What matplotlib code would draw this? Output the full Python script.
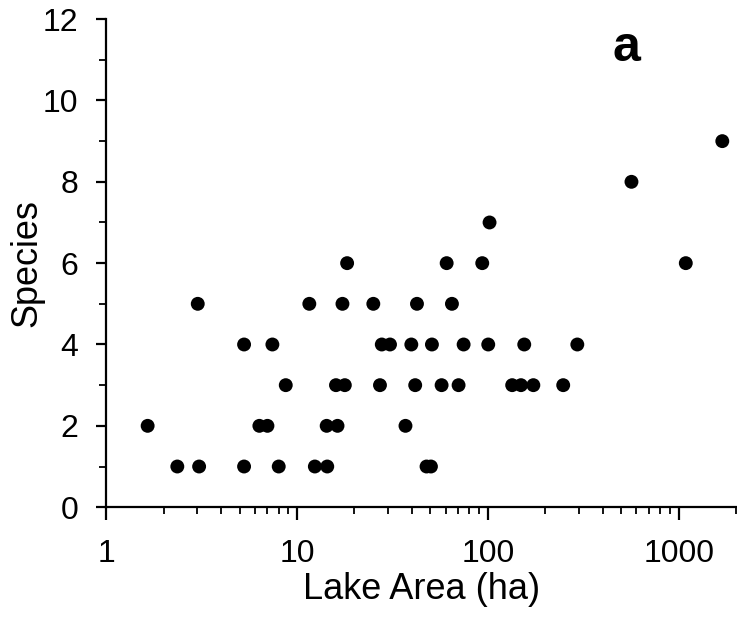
import numpy as np
import matplotlib
matplotlib.use("Agg")
import matplotlib.pyplot as plt
from matplotlib.ticker import LogLocator, FixedLocator, NullFormatter

plt.rcParams['font.family'] = ['Liberation Sans', 'DejaVu Sans']

# Lake area (ha) grouped by species count
area_1 = [2.36, 3.07, 5.28, 8.02, 12.4, 14.4, 47.7, 50.3]
area_2 = [1.65, 6.35, 7.0, 14.3, 16.3, 37.0]
area_3 = [8.73, 16.0, 17.8, 27.2, 41.6, 57.2, 70.2, 134, 149, 173, 248]
area_4 = [5.28, 7.43, 27.8, 30.7, 39.7, 50.9, 74.6, 100.4, 155, 294]
area_5 = [3.02, 11.6, 17.3, 25.1, 42.5, 64.8]
area_6 = [18.3, 60.8, 93.4, 1088]
area_7 = [102]
area_8 = [565]
area_9 = [1690]

groups = [area_1, area_2, area_3, area_4, area_5, area_6, area_7, area_8, area_9]
species_counts = [1, 2, 3, 4, 5, 6, 7, 8, 9]

x_ticks = [1, 10, 100, 1000]
x_labels = ["1", "10", "100", "1000"]
y_ticks = [0, 2, 4, 6, 8, 10, 12]

lake_area = []
species = []
for cnt, g in zip(species_counts, groups):
    lake_area += g
    species += [cnt] * len(g)

fig = plt.figure(figsize=(7.37, 6.17), dpi=100)
ax = fig.add_axes([0.144, 0.178, 0.855, 0.791])

ax.scatter(lake_area, species, s=100, color="black", edgecolors="none", clip_on=False, zorder=3)

ax.set_xscale("log")
ax.set_xlim(1, 2000)
ax.set_ylim(0, 12)

ax.set_xticks(x_ticks)
ax.set_xticklabels(x_labels)
ax.xaxis.set_minor_locator(LogLocator(base=10, subs=np.arange(2, 10)))
ax.xaxis.set_minor_formatter(NullFormatter())
ax.set_yticks(y_ticks)
ax.yaxis.set_minor_locator(FixedLocator([1, 3, 5, 7, 9, 11]))

for side in ["top", "right"]:
    ax.spines[side].set_visible(False)
for side in ["left", "bottom"]:
    ax.spines[side].set_linewidth(1.6)

ax.tick_params(axis="y", which="major", direction="out", length=7, width=1.6,
               labelsize=23, pad=13)
ax.tick_params(axis="x", which="major", direction="out", length=9, width=1.6,
               labelsize=23, pad=14)
ax.tick_params(axis="both", which="minor", direction="out", length=5, width=1.3)

ax.set_xlabel("Lake Area (ha)", fontsize=26, labelpad=2)
ax.set_ylabel("Species", fontsize=26, labelpad=-1)

ax.text(530, 11.3, "a", fontsize=36, fontweight="bold", ha="center", va="center")

fig.savefig("out.png", dpi=100)
